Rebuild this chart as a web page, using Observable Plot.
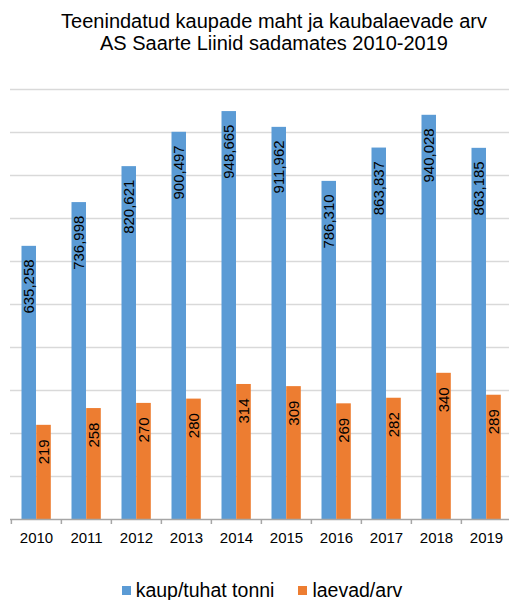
<!DOCTYPE html>
<html>
<head>
<meta charset="utf-8">
<script src="https://cdn.jsdelivr.net/npm/d3@7"></script>
<script src="https://cdn.jsdelivr.net/npm/@observablehq/plot@0.6"></script>
<style>
  body { margin: 0; background: #fff; font-family: "Liberation Sans", Arial, sans-serif; color: #000; }
  #title { height: 60px; box-sizing: border-box; padding-top: 10px; padding-left: 39px; text-align: center; font-size: 20px; line-height: 22px; white-space: nowrap; }
  #chart svg { display: block; }
  #legend { height: 40px; box-sizing: border-box; padding-top: 20px; padding-left: 15px; display: flex; justify-content: center; align-items: center; font-size: 19.5px; line-height: 22px; }
  .item { display: flex; align-items: center; }
  .sw { width: 9px; height: 9px; margin-right: 5px; }
  .gap { width: 24px; }
</style>
</head>
<body>
<div id="title">Teenindatud kaupade maht ja kaubalaevade arv<br>AS Saarte Liinid sadamates 2010-2019</div>
<div id="chart"></div>
<div id="legend"></div>
<script>
const years = ["2010", "2011", "2012", "2013", "2014", "2015", "2016", "2017", "2018", "2019"];
const kaup = [635.258, 736.998, 820.621, 900.497, 948.665, 911.962, 786.310, 863.837, 940.028, 863.185];
const laevad = [219, 258, 270, 280, 314, 309, 269, 282, 340, 289];
const seriesNames = ["kaup/tuhat tonni", "laevad/arv"];
const seriesColors = ["#5B9BD5", "#ED7D31"];
const gridValues = [100, 200, 300, 400, 500, 600, 700, 800, 900, 1000];

const kaupData = years.map((year, i) => ({year, value: kaup[i]}));
const laevadData = years.map((year, i) => ({year, value: laevad[i]}));
const fmtKaup = v => v.toFixed(3).replace(".", ",");

const plot = Plot.plot({
  width: 509,
  height: 500,
  marginTop: 29,
  marginBottom: 41,
  marginLeft: 10,
  marginRight: 0,
  style: {fontFamily: "'Liberation Sans', Arial, sans-serif", fontSize: "15px", background: "#fff", color: "#000", overflow: "visible"},
  x: {domain: years, range: [10, 512.5], padding: 0, label: null},
  y: {domain: [0, 1000], axis: null},
  marks: [
    Plot.ruleY(gridValues, {stroke: "#d9d9d9", strokeWidth: 1.5}),
    Plot.barY(kaupData, {x: "year", y: "value", fill: seriesColors[0], insetLeft: 10.5, insetRight: 25.0}),
    Plot.barY(laevadData, {x: "year", y: "value", fill: seriesColors[1], insetLeft: 25.2, insetRight: 10.2}),
    Plot.ruleY([0], {stroke: "#a6a6a6", strokeWidth: 1.5}),
    Plot.axisX({tickSize: 0, tickPadding: 13, fontSize: 15, fill: "#000", label: null}),
    Plot.axisX({tickSize: 5, tickFormat: () => "", dx: -25.125, stroke: "#a6a6a6", strokeWidth: 1.5, label: null}),
    Plot.text(kaupData, {x: "year", y: "value", text: d => fmtKaup(d.value), rotate: -90, textAnchor: "end", dx: -7.1, dy: 13, fill: "#000", fontSize: 15}),
    Plot.text(laevadData, {x: "year", y: "value", text: d => String(d.value), rotate: -90, textAnchor: "end", dx: 7.6, dy: 14, fill: "#000", fontSize: 15})
  ]
});
document.getElementById("chart").appendChild(plot);

const legend = document.getElementById("legend");
seriesNames.forEach((name, i) => {
  if (i > 0) { const g = document.createElement("div"); g.className = "gap"; legend.appendChild(g); }
  const item = document.createElement("div");
  item.className = "item";
  const sw = document.createElement("span");
  sw.className = "sw";
  sw.style.background = seriesColors[i];
  const label = document.createElement("span");
  label.textContent = name;
  item.appendChild(sw);
  item.appendChild(label);
  legend.appendChild(item);
});
</script>
</body>
</html>
